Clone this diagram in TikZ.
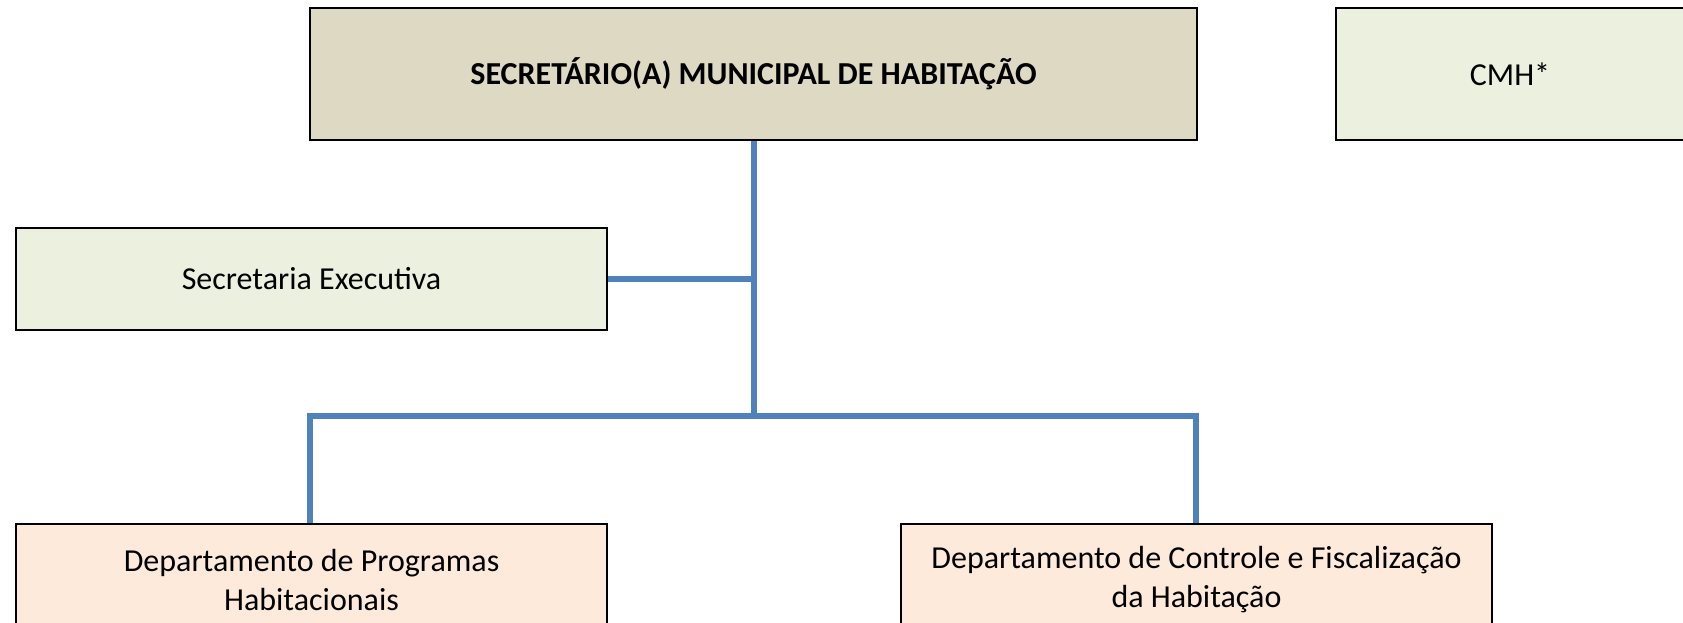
\documentclass[tikz,border=0pt]{standalone}
\usepackage{fontspec}
\setmainfont{Carlito}
\definecolor{tanfill}{HTML}{DDD9C3}
\definecolor{greenfill}{HTML}{EBF1DE}
\definecolor{peachfill}{HTML}{FDEADA}
\definecolor{linkblue}{HTML}{4F81BD}
\begin{document}
\begin{tikzpicture}[x=1pt,y=-1pt,
  box/.style={draw=black,line width=1.6pt,inner sep=0pt,align=center,font=\fontsize{32}{39}\selectfont},
  link/.style={draw=linkblue,line width=5.5pt}]
\useasboundingbox (0,0) rectangle (1683,623);
\clip (0,0) rectangle (1683,623);
\fill[white] (0,0) rectangle (1683,623);
\node[box,fill=tanfill,minimum width=887pt,minimum height=132pt,font=\fontsize{32}{39}\selectfont\bfseries] (sec) at (753.5,74) {SECRETÁRIO(A) MUNICIPAL DE HABITAÇÃO};
\node[box,fill=greenfill,minimum width=348pt,minimum height=132pt] (cmh) at (1510,74) {CMH*};
\node[box,fill=greenfill,minimum width=591pt,minimum height=102pt] (exe) at (311.5,279) {Secretaria Executiva};
\node[box,fill=peachfill,minimum width=591pt,minimum height=112pt] (d1) at (311.5,580) {Departamento de Programas\\Habitacionais};
\node[box,fill=peachfill,minimum width=591pt,minimum height=112pt] (d2) at (1196.5,580) {Departamento de Controle e Fiscalização\\da Habitação};
\coordinate (j1) at (754,279);
\coordinate (j2) at (754,416);
\draw[link] (sec.south -| j1) -- (j2);
\draw[link] (exe.east) -- (j1);
\draw[link] (d1.north -| 310,0) -- (310,416) -- (1196,416) -- (d2.north -| 1196,0);
\end{tikzpicture}
\end{document}
